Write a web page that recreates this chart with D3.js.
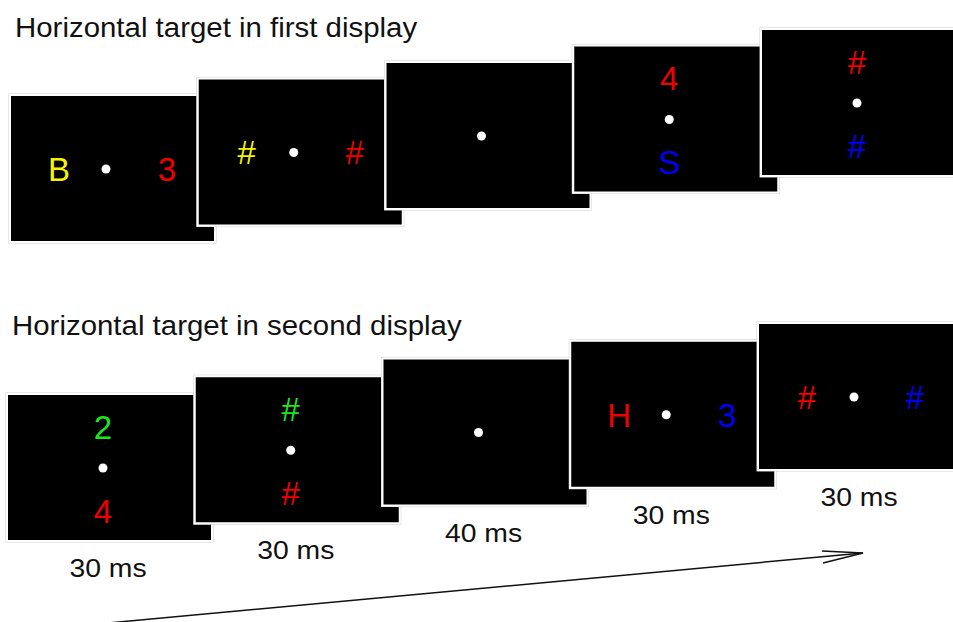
<!DOCTYPE html>
<html>
<head>
<meta charset="utf-8">
<script src="https://cdn.jsdelivr.net/npm/d3@7"></script>
<style>
  body { margin: 0; background: #fff; }
  svg { display: block; font-family: "Liberation Sans", Arial, Helvetica, sans-serif; }
</style>
</head>
<body>
<div id="chart"></div>
<script>
// titles of the two sequences
var rowTitles = ["Horizontal target in first display", "Horizontal target in second display"]

// stimuli shown on each of the five screens (empty = fixation only)
var firstSymbols = [["B", "3"], ["#", "#"], [], ["4", "S"], ["#", "#"]]
var firstColors = [["yellow", "red"], ["yellow", "red"], [], ["red", "blue"], ["red", "blue"]]
var firstLayout = ["h", "h", "none", "v", "v"]

var secondSymbols = [["2", "4"], ["#", "#"], [], ["H", "3"], ["#", "#"]]
var secondColors = [["green", "red"], ["green", "red"], [], ["red", "blue"], ["red", "blue"]]
var secondLayout = ["v", "v", "none", "h", "h"]

// frame durations
var durations = ["30 ms", "30 ms", "40 ms", "30 ms", "30 ms"]

var width = 953
var height = 622
var screenW = 205
var screenH = 147
var stretch = 1.07  // the figure text is a little wide

var palette = {
  yellow: "#f4f400",
  red: "#f00000",
  blue: "#0000f0",
  green: "#1ee61e"
}

var svg = d3.select("#chart")
  .append("svg")
  .attr("width", width)
  .attr("height", height)

var rows = [
  { title: rowTitles[0], sym: firstSymbols, col: firstColors, lay: firstLayout,
    x: d3.scaleLinear().domain([0, 4]).range([10, 761]),
    y: d3.scaleLinear().domain([0, 4]).range([95, 29]),
    titleX: 15, titleY: 37, labels: false },
  { title: rowTitles[1], sym: secondSymbols, col: secondColors, lay: secondLayout,
    x: d3.scaleLinear().domain([0, 4]).range([7, 758]),
    y: d3.scaleLinear().domain([0, 4]).range([394, 323]),
    titleX: 12, titleY: 335, labels: true }
]

rows.forEach(function(row) {
  svg.append("text")
    .attr("transform", "translate(" + row.titleX + "," + row.titleY + ") scale(" + stretch + ",1)")
    .style("font-size", "27.5px")
    .attr("fill", "#111")
    .text(row.title)

  var screens = svg.append("g").selectAll("g.screen")
    .data(d3.range(5))
    .enter()
    .append("g")
    .attr("class", "screen")
    .attr("transform", function(i) { return "translate(" + row.x(i) + "," + row.y(i) + ")" })

  // faint edge then white frame
  screens.append("rect")
    .attr("x", -1.5).attr("y", -1.5)
    .attr("width", screenW + 3).attr("height", screenH + 3)
    .attr("fill", "#d0d0d0")
  screens.append("rect")
    .attr("x", -1).attr("y", -1)
    .attr("width", screenW + 2).attr("height", screenH + 2)
    .attr("fill", "#fff")
  screens.append("rect")
    .attr("x", 1).attr("y", 1)
    .attr("width", screenW - 2).attr("height", screenH - 2)
    .attr("fill", "#000")

  // fixation dot
  var cx = 96, cy = 74
  screens.append("circle")
    .attr("cx", cx).attr("cy", cy).attr("r", 4.5)
    .attr("fill", "#fff")

  screens.each(function(i) {
    var g = d3.select(this)
    var lay = row.lay[i]
    row.sym[i].forEach(function(s, k) {
      var dx = 0, dy = 0
      if (lay === "h") { dx = k === 0 ? -47 : 61 }
      if (lay === "v") { dy = k === 0 ? -41 : 43 }
      g.append("text")
        .attr("x", cx + dx)
        .attr("y", cy + dy)
        .attr("dy", "0.36em")
        .attr("text-anchor", "middle")
        .style("font-size", "33px")
        .attr("fill", palette[row.col[i][k]])
        .text(s)
    })
    if (row.labels) {
      g.append("text")
        .attr("transform", "translate(101," + (screenH + 36) + ") scale(" + stretch + ",1)")
        .attr("text-anchor", "middle")
        .style("font-size", "26.5px")
        .attr("fill", "#111")
        .text(durations[i])
    }
  })
})

// time arrow
svg.append("path")
  .attr("d", d3.line()([[108, 623], [863, 553]]))
  .attr("stroke", "#111")
  .attr("stroke-width", 1.5)
  .attr("fill", "none")
svg.append("path")
  .attr("d", d3.line()([[822, 551], [863, 553], [823, 563]]))
  .attr("stroke", "#111")
  .attr("stroke-width", 1.5)
  .attr("fill", "none")
</script>
</body>
</html>
